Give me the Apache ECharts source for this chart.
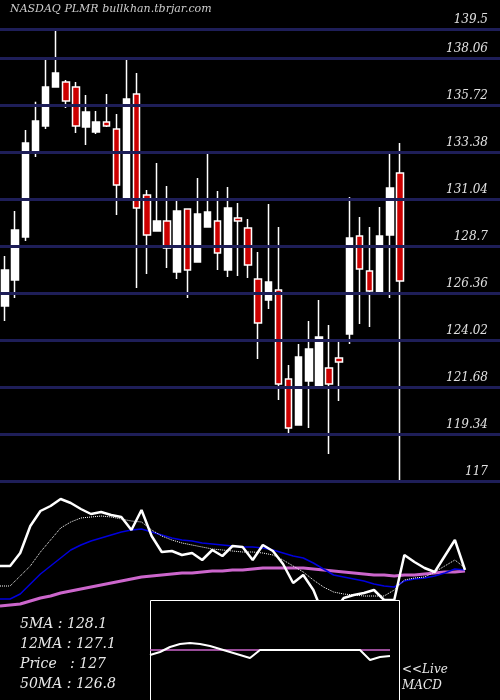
<!DOCTYPE html>
<html><head><meta charset="utf-8">
<script src="https://cdn.jsdelivr.net/npm/echarts@6/dist/echarts.min.js"></script>
<style>html,body{margin:0;padding:0;background:#000}#c{width:500px;height:700px}</style>
</head><body><div id="c"></div>
<script>
const days = Array.from({length:40},(_,i)=>'D'+(i+1));
// [open, close, low, high]
const ohlc = [
[125.71,127.50,124.96,128.20],[127.00,129.49,126.11,130.44],[129.15,133.82,128.95,134.47],[133.38,134.92,133.13,135.87],
[134.67,136.61,134.52,137.96],[136.61,137.31,136.61,139.45],[136.86,135.91,135.57,136.96],[136.61,134.67,134.32,136.86],
[134.62,135.37,133.72,136.21],[134.37,134.87,134.27,135.42],[134.87,134.67,134.62,136.26],[134.52,131.73,130.24,135.27],
[131.04,136.01,131.04,137.96],[136.26,130.59,126.61,137.31],[131.24,129.24,127.30,131.48],[129.44,129.94,129.44,132.83],
[129.94,128.60,127.60,131.68],[127.40,130.44,127.05,130.99],[130.54,127.50,126.11,130.54],[127.90,130.29,127.90,132.08],
[129.64,130.39,129.64,133.38],[129.94,128.35,127.50,131.43],[127.50,130.59,127.15,131.63],[130.09,129.94,127.20,130.84],
[129.59,127.75,127.10,130.04],[127.05,124.86,123.07,128.40],[126.01,126.91,125.56,130.79],[126.51,121.83,121.03,129.64],
[122.08,119.64,119.34,122.77],[119.79,123.17,119.79,123.82],[121.98,123.57,119.64,124.96],[121.68,124.17,121.68,126.01],
[122.62,121.83,118.34,124.77],[123.12,122.92,120.98,124.02],[124.32,129.10,123.82,131.14],[129.20,127.55,124.81,130.14],
[127.45,126.46,124.67,129.64],[126.41,129.20,126.36,130.64],[129.24,131.58,126.11,133.33],[132.33,126.96,116.90,133.82]
];
const priceTicks = [139.5,138.06,135.72,133.38,131.04,128.7,126.36,124.02,121.68,119.34,117];
// lower indicator panel (levels, inverted scale)
const slots = Array.from({length:47},(_,i)=>i);
const fastLine = [566,566,553,526,511,506,499,503,509,514,512,515,517,530,510,536,552,551,555,553,560,550,556,546,547,560,545,551,564,583,575,590,615,612,598,595,593,590,600,600,555,562,568,572,556,540,570];
const dotLine = [586,586,576,566,552,540,528,522,518,517,516,517,519,521,522,530,536,540,543,545,547,549,550,551,552,552,553,555,560,566,572,580,587,592,594,595,596,596,596,590,580,578,577,572,566,560,568];
const blueLine = [599,599,594,584,574,566,558,550,545,541,538,535,532,530,529,532,535,538,540,541,543,544,545,546,547,547,548,550,553,556,558,563,569,575,577,579,581,584,586,587,581,579,578,576,573,569,570];
const pinkLine = [606,605,604,601,598,596,593,591,589,587,585,583,581,579,577,576,575,574,573,573,572,571,571,570,570,569,568,568,568,568,568,569,570,571,572,573,574,575,575,576,575,575,574,573,572,572,571];
const macdSlots = Array.from({length:25},(_,i)=>i);
const macdLine = [655,652,647,644,643,644,646,649,652,655,658,650,650,650,650,650,650,650,650,650,650,650,660,657,656];
const signalLine = Array(25).fill(650);
const infoText = ['5MA : 128.1','12MA : 127.1','Price   : 127','50MA : 126.8'];
const font = '"DejaVu Serif","Liberation Serif",serif';

const chart = echarts.init(document.getElementById('c'));
chart.setOption({
  backgroundColor:'#000', animation:false,
  grid:[
    {left:-2,width:407,top:0,height:481},
    {left:0,right:0,top:0,height:481},
    {left:0,width:465,top:490,height:130},
    {left:150,width:240,top:600,height:100}
  ],
  xAxis:[
    {gridIndex:0,type:'category',data:days,show:false},
    {gridIndex:1,type:'category',data:['a','b'],show:false,boundaryGap:false},
    {gridIndex:2,type:'category',data:slots,show:false,boundaryGap:false},
    {gridIndex:3,type:'category',data:macdSlots,show:false,boundaryGap:false}
  ],
  yAxis:[
    {gridIndex:0,type:'value',min:117,max:140.94,show:false},
    {gridIndex:1,type:'value',min:117,max:140.94,show:false},
    {gridIndex:2,type:'value',min:490,max:620,inverse:true,show:false},
    {gridIndex:3,type:'value',min:600,max:700,inverse:true,show:false}
  ],
  series:[
    {type:'line',xAxisIndex:1,yAxisIndex:1,data:[],z:1,silent:true,
     markLine:{symbol:'none',silent:true,lineStyle:{color:'#1e1e58',width:3,type:'solid'},
       label:{position:'insideEndTop',color:'#e0e0e0',fontFamily:font,fontStyle:'italic',fontSize:12,distance:[12,3]},
       data:priceTicks.map(v=>({yAxis:v,label:{formatter:String(v)}}))}},
    {type:'candlestick',xAxisIndex:0,yAxisIndex:0,data:ohlc,barWidth:7,clip:false,z:3,
     itemStyle:{color:'#ffffff',color0:'#cc0000',borderColor:'#ffffff',borderColor0:'#ffffff',borderWidth:1.5}},
    {type:'line',xAxisIndex:2,yAxisIndex:2,data:pinkLine,symbol:'none',lineStyle:{color:'#cc66cc',width:3}},
    {type:'line',xAxisIndex:2,yAxisIndex:2,data:blueLine,symbol:'none',lineStyle:{color:'#0000dd',width:1.5}},
    {type:'line',xAxisIndex:2,yAxisIndex:2,data:dotLine,symbol:'none',lineStyle:{color:'#ffffff',width:1,type:'dotted'}},
    {type:'line',xAxisIndex:2,yAxisIndex:2,data:fastLine,symbol:'none',lineStyle:{color:'#ffffff',width:2.5}},
    {type:'line',xAxisIndex:3,yAxisIndex:3,data:signalLine,symbol:'none',z:20,lineStyle:{color:'#cc66cc',width:1.5}},
    {type:'line',xAxisIndex:3,yAxisIndex:3,data:macdLine,symbol:'none',z:21,lineStyle:{color:'#ffffff',width:2}}
  ],
  graphic:[
    {type:'rect',z:10,shape:{x:150.5,y:600.5,width:249,height:100},style:{fill:'#000',stroke:'#fff',lineWidth:1}},
    {type:'text',z:30,left:10,top:4,style:{text:'NASDAQ PLMR bullkhan.tbrjar.com',fill:'#ccc',font:'italic 11px '+font}},
    ...infoText.map((t,i)=>({type:'text',z:30,left:20,top:617+i*20,style:{text:t,fill:'#e8e8e8',font:'italic 14px '+font}})),
    {type:'text',z:30,left:402,top:664,style:{text:'<<Live',fill:'#e8e8e8',font:'italic 12px '+font}},
    {type:'text',z:30,left:402,top:680,style:{text:'MACD',fill:'#e8e8e8',font:'italic 12px '+font}}
  ]
});
</script></body></html>
